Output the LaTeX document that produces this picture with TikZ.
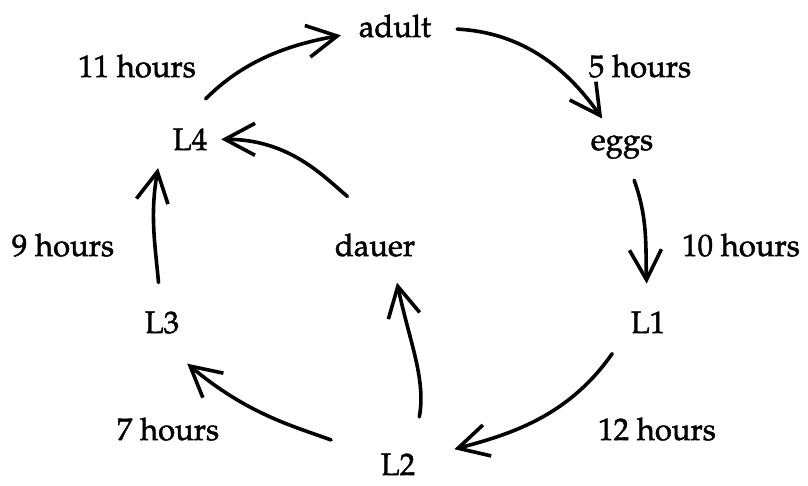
\documentclass[tikz,border=0pt]{standalone}
\usepackage[T1]{fontenc}
\usepackage{mathpazo}
\usetikzlibrary{arrows.meta}
% slightly heavier type: fill and stroke the glyph outlines
\newcommand\inked[1]{\special{pdf:literal direct 2 Tr 0.45 w}#1\special{pdf:literal direct 0 Tr}}
\tikzset{
  stage/.style={inner sep=0pt, outer sep=14pt, anchor=base, font=\fontsize{31}{36}\selectfont},
  dur/.style={inner sep=0pt, anchor=base, font=\fontsize{31}{36}\selectfont},
  flow/.style={line width=3.6pt, line cap=round,
    -{Straight Barb[length=30pt, width=32pt, line width=3.6pt]}},
}
\begin{document}
\begin{tikzpicture}[x=1pt, y=1pt]
\useasboundingbox (0,0) rectangle (808,485);
% life-cycle stages
\node[stage] (adult) at (395,448) {\inked{adult}};
\node[stage] (eggs)  at (622,335) {\inked{eggs}};
\node[stage] (L1)    at (648,152) {\inked{L1}};
\node[stage] (L2)    at (398,10)  {\inked{L2}};
\node[stage] (L3)    at (162,152) {\inked{L3}};
\node[stage] (L4)    at (190,335) {\inked{L4}};
\node[stage] (dauer) at (375,229) {\inked{dauer}};
% durations
\node[dur] (t11) at (137,408) {\inked{11 hours}};
\node[dur] (t5)  at (640,408) {\inked{5 hours}};
\node[dur] (t10) at (741,229) {\inked{10 hours}};
\node[dur] (t12) at (657,45)  {\inked{12 hours}};
\node[dur] (t7)  at (168,45)  {\inked{7 hours}};
\node[dur] (t9)  at (63,229)  {\inked{9 hours}};
% transitions
\draw[flow, shorten <=22pt, shorten >=4pt] (L4.north) to[out=45, in=190] (adult);
\draw[flow, shorten <=12pt, shorten >=3pt] (adult) to[out=-3, in=125] (eggs);
\draw[flow, shorten <=8pt, shorten >=14pt] (eggs) to[out=-70, in=92] (L1);
\draw[flow, shorten <=8pt, shorten >=26pt] (L1.south west) to[out=235, in=15] (L2);
\draw[flow, shorten <=38pt] (L2) to[out=160, in=-40] ([shift={(-6pt,-16pt)}]L3.south east);
\draw[flow, shorten <=15pt, shorten >=4pt] (L3) to[out=95, in=-100] (L4.south west);
\draw[flow, shorten <=23pt] (L2.55) to[out=80, in=-78] ([shift={(22pt,-12pt)}]dauer.south);
\draw[flow, shorten <=36pt] (dauer.north) to[out=140, in=0] (L4);
\end{tikzpicture}
\end{document}
